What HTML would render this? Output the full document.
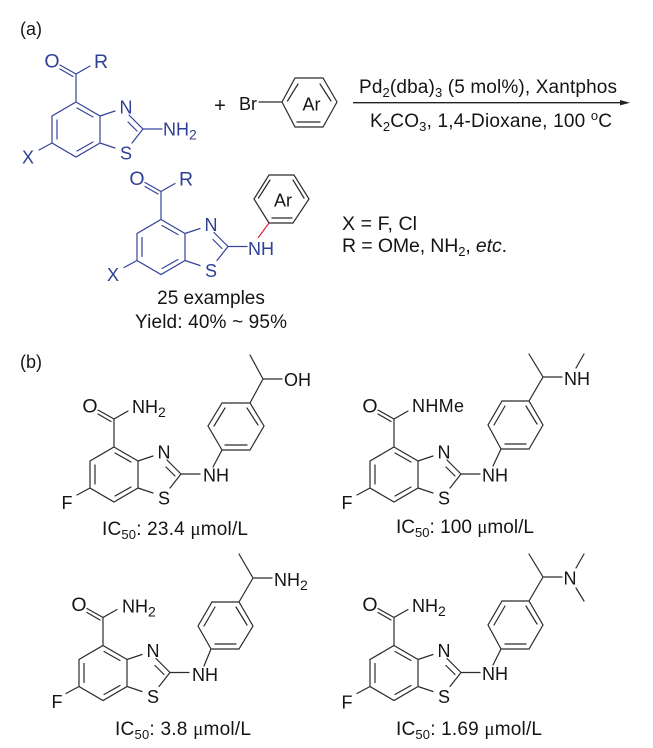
<!DOCTYPE html>
<html><head><meta charset="utf-8"><style>
html,body{margin:0;padding:0;background:#fff}
svg{display:block}
text{font-family:"Liberation Sans",Arial,sans-serif;font-size:18px;fill:#151515}
.b text{fill:#2f4094}
.c{text-anchor:middle}
.l{stroke:#2b2b2b;stroke-width:1.2;fill:none;stroke-linecap:round}
.b .l,.l.bl{stroke:#34449a}
.cap{font-size:19px}
.big{font-size:19.5px}
</style></head><body>
<svg width="653" height="748" viewBox="0 0 653 748" xmlns="http://www.w3.org/2000/svg">
<defs>
<g id="core">
<path d="M0 0V-28L14-36M-16-37L0-28M-16-33L-3-25.5M0 0L24 14V41L0 55L-24 41V14ZM1 6L17 15M17 40L1 49M-19 18V37M24 14L39 9M53 13L67 27M52 20L61 29M24 41L39 46M56 41L67 27L86 27M-24 41L-37 48"/>
</g>
</defs>
<rect width="653" height="748" fill="#fff"/>
<text x="20" y="35">(a)</text>

<g class="b" transform="translate(76,102)">
<use href="#core" class="l"/>
<text class="c big" x="-24" y="-34.5">O</text><text class="big" x="18" y="-34">R</text>
<text class="c" x="50" y="11.5">N</text><text class="c" x="50" y="57.5">S</text>
<text x="87" y="33.5">NH<tspan font-size="14" dy="4">2</tspan></text>
<text class="c" x="-48" y="61.5">X</text>
</g>
<text class="c" x="220" y="112" style="font-size:20px">+</text>
<text x="239" y="110">Br</text>
<path class="l" d="M259 102H282L295 78H323L337 102L323 127H295L282 102M287.500 101L298 84M297 122H320M320 84L331 101"/>
<text class="c" x="311.500" y="110.500">Ar</text>

<text x="359" y="93" class="cap" textLength="258">Pd<tspan font-size="13" dy="4">2</tspan><tspan dy="-4">(dba)</tspan><tspan font-size="13" dy="4">3</tspan><tspan dy="-4"> (5 mol%), Xantphos</tspan></text>
<path d="M353 102.700H622" stroke="#222" stroke-width="1.300"/>
<path d="M630 102.700L620 100V105.400Z" fill="#222"/>
<text x="370" y="127" class="cap" textLength="242">K<tspan font-size="13" dy="4">2</tspan><tspan dy="-4">CO</tspan><tspan font-size="13" dy="4">3</tspan><tspan dy="-4">, 1,4-Dioxane, 100 </tspan><tspan font-size="13" dy="-7">o</tspan><tspan dy="7">C</tspan></text>

<g class="b" transform="translate(161,219.500)">
<use href="#core" class="l"/>
<text class="c big" x="-24" y="-34.5">O</text><text class="big" x="18" y="-34">R</text>
<text class="c" x="50" y="11.5">N</text><text class="c" x="50" y="57.5">S</text>
<text x="87" y="35.500">NH</text>
<text class="c" x="-48" y="61.5">X</text>
</g>
<path d="M258 238L269 223" stroke="#d9263a" stroke-width="1.200" fill="none"/>
<path class="l" d="M269 223H293L309 199L294 175H269L254 199L269 223M258.500 198L270 180M272 218H292M293 180L304 198"/>
<text x="274" y="206.500">Ar</text>

<text x="342" y="230" class="big" textLength="75">X = F, Cl</text>
<text x="342" y="252" class="big" textLength="165">R = OMe, NH<tspan font-size="13" dy="4">2</tspan><tspan dy="-4">, </tspan><tspan font-style="italic">etc</tspan>.</text>

<text class="c cap" x="211" y="304">25 examples</text>
<text class="cap" x="135" y="328" textLength="152">Yield: 40% ~ 95%</text>

<text x="20" y="368">(b)</text>

<!-- b1 -->
<g transform="translate(114,447)">
<use href="#core" class="l"/>
<text class="c big" x="-24" y="-34.5">O</text>
<text x="18" y="-34">NH<tspan font-size="14" dy="4">2</tspan></text>
<text class="c" x="50" y="11.5">N</text><text class="c" x="50" y="57.5">S</text>
<text x="89" y="34.500">NH</text>
<text class="c" x="-47" y="62">F</text>
</g>
<path class="l" d="M213 467L222 450H250L264 426L250 403H222L208 426L222 450M214 426L225 408M225 445H247M247 408L258 425M250 403L263 379L250 355M263 379H282"/>
<text x="284" y="386">OH</text>
<text class="cap" x="102" y="535" textLength="146">IC<tspan font-size="13" dy="4">50</tspan><tspan dy="-4">: 23.4 </tspan><tspan font-family="Liberation Serif">μ</tspan>mol/L</text>

<!-- b2 -->
<g transform="translate(394,447)">
<use href="#core" class="l"/>
<text class="c big" x="-24" y="-34.5">O</text>
<text x="18" y="-35" textLength="52">NHMe</text>
<text class="c" x="50" y="11.5">N</text><text class="c" x="50" y="57.5">S</text>
<text x="88" y="34.500">NH</text>
<text class="c" x="-47" y="62">F</text>
</g>
<path class="l" d="M493 466L501 449H529L543 425L529 401H502L488 425L501 449M494 425L505 406M505 444H526M526 406L537 424M529 401L543 377L529 354M543 377H562M576 368L584 354"/>
<text x="564" y="385">NH</text>
<text class="cap" x="396" y="533" textLength="138">IC<tspan font-size="13" dy="4">50</tspan><tspan dy="-4">: 100 </tspan><tspan font-family="Liberation Serif">μ</tspan>mol/L</text>

<!-- b3 -->
<g transform="translate(103,645.500)">
<use href="#core" class="l"/>
<text class="c big" x="-24" y="-34.5">O</text>
<text x="19" y="-33">NH<tspan font-size="14" dy="4">2</tspan></text>
<text class="c" x="50" y="11.5">N</text><text class="c" x="50" y="57.5">S</text>
<text x="89" y="35.500">NH</text>
<text class="c" x="-46" y="62.500">F</text>
</g>
<path class="l" d="M204 666L211 649H239L253 626L239 602H212L198 626L211 649M204 626L215 607M215 644H236M236 607L247 625M239 602L253 578L239 554M253 578H272"/>
<text x="274" y="586">NH<tspan font-size="14" dy="4">2</tspan></text>
<text class="cap" x="115" y="735" textLength="136">IC<tspan font-size="13" dy="4">50</tspan><tspan dy="-4">: 3.8 </tspan><tspan font-family="Liberation Serif">μ</tspan>mol/L</text>

<!-- b4 -->
<g transform="translate(394,645.500)">
<use href="#core" class="l"/>
<text class="c big" x="-24" y="-34.5">O</text>
<text x="18" y="-33.500">NH<tspan font-size="14" dy="4">2</tspan></text>
<text class="c" x="50" y="11.5">N</text><text class="c" x="50" y="57.5">S</text>
<text x="88" y="34.500">NH</text>
<text class="c" x="-47" y="63">F</text>
</g>
<path class="l" d="M493 665L501 649H529L543 625L529 601H502L488 625L501 649M494 625L505 606M505 644H526M526 606L537 624M529 601L543 577L529 554M543 577H562M576 568L584 554M576 588L584 601"/>
<text class="c" x="570" y="584.500">N</text>
<text class="cap" x="396" y="735" textLength="146">IC<tspan font-size="13" dy="4">50</tspan><tspan dy="-4">: 1.69 </tspan><tspan font-family="Liberation Serif">μ</tspan>mol/L</text>
</svg>
</body></html>
